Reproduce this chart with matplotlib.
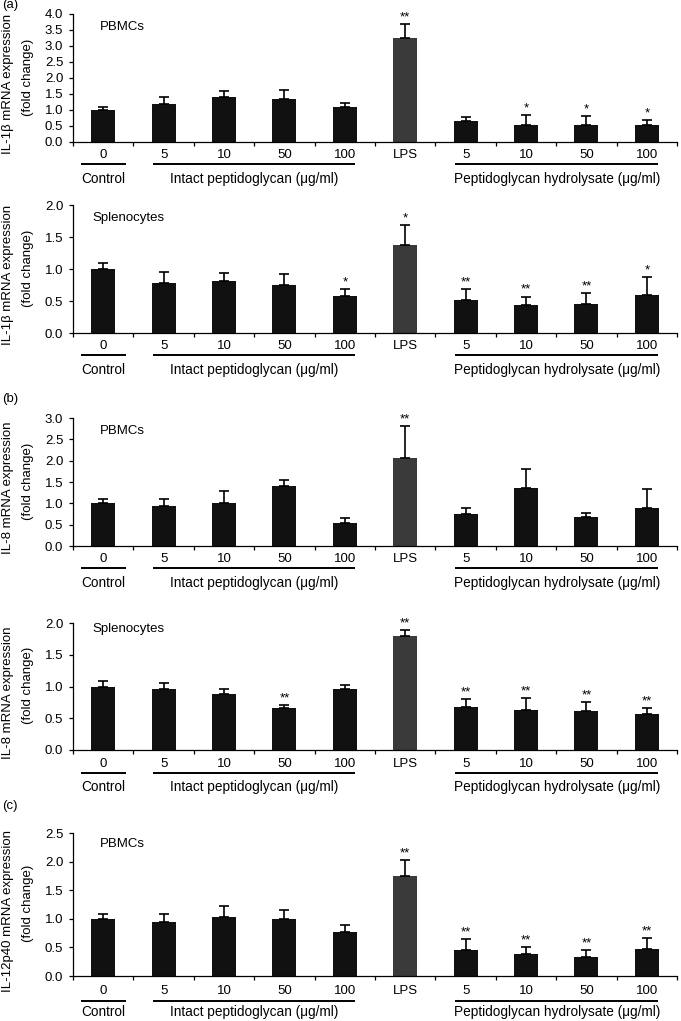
import matplotlib
matplotlib.use('Agg')
import matplotlib.pyplot as plt
import matplotlib.transforms as mtransforms
import numpy as np

plt.rcParams['font.family'] = ['Liberation Sans', 'DejaVu Sans']

categories = ['0', '5', '10', '50', '100', 'LPS', '5', '10', '50', '100']
group_names = ['Control', 'Intact peptidoglycan (\u03bcg/ml)', 'Peptidoglycan hydrolysate (\u03bcg/ml)']

# panel data
il1b_pbmc = [1.00, 1.18, 1.40, 1.34, 1.09, 3.26, 0.66, 0.54, 0.53, 0.53]
il1b_pbmc_err = [0.10, 0.23, 0.18, 0.28, 0.12, 0.42, 0.13, 0.31, 0.28, 0.15]
il1b_pbmc_sig = ['', '', '', '', '', '**', '', '*', '*', '*']

il1b_spl = [1.00, 0.78, 0.81, 0.75, 0.58, 1.37, 0.52, 0.44, 0.46, 0.60]
il1b_spl_err = [0.09, 0.18, 0.13, 0.17, 0.10, 0.32, 0.17, 0.13, 0.16, 0.28]
il1b_spl_sig = ['', '', '', '', '*', '*', '**', '**', '**', '*']

il8_pbmc = [1.00, 0.93, 1.01, 1.41, 0.53, 2.06, 0.75, 1.35, 0.67, 0.88]
il8_pbmc_err = [0.09, 0.18, 0.27, 0.14, 0.12, 0.75, 0.14, 0.46, 0.10, 0.46]
il8_pbmc_sig = ['', '', '', '', '', '**', '', '', '', '']

il8_spl = [1.00, 0.96, 0.88, 0.66, 0.96, 1.79, 0.68, 0.63, 0.61, 0.57]
il8_spl_err = [0.08, 0.10, 0.08, 0.05, 0.07, 0.10, 0.12, 0.19, 0.15, 0.09]
il8_spl_sig = ['', '', '', '**', '', '**', '**', '**', '**', '**']

il12_pbmc = [1.00, 0.94, 1.03, 1.00, 0.77, 1.74, 0.45, 0.38, 0.33, 0.48]
il12_pbmc_err = [0.08, 0.15, 0.20, 0.15, 0.13, 0.29, 0.20, 0.12, 0.12, 0.19]
il12_pbmc_sig = ['', '', '', '', '', '**', '**', '**', '**', '**']

panels = [
    dict(vals=il1b_pbmc, err=il1b_pbmc_err, sig=il1b_pbmc_sig, ymax=4.0, step=0.5,
         ylabel='IL-1\u03b2 mRNA expression', cell='PBMCs', cx=0.045, top=14, bottom=142, cy=0.90,
         tag='(a)', tagy=5, offs=(13, 22, 37)),
    dict(vals=il1b_spl, err=il1b_spl_err, sig=il1b_spl_sig, ymax=2.0, step=0.5,
         ylabel='IL-1\u03b2 mRNA expression', cell='Splenocytes', cx=0.032, top=205, bottom=333, cy=0.895,
         tag=None, offs=(13, 22, 37)),
    dict(vals=il8_pbmc, err=il8_pbmc_err, sig=il8_pbmc_sig, ymax=3.0, step=0.5,
         ylabel='IL-8 mRNA expression', cell='PBMCs', cx=0.045, top=418, bottom=546, cy=0.90,
         tag='(b)', tagy=399, offs=(13, 22, 37)),
    dict(vals=il8_spl, err=il8_spl_err, sig=il8_spl_sig, ymax=2.0, step=0.5,
         ylabel='IL-8 mRNA expression', cell='Splenocytes', cx=0.032, top=623, bottom=750, cy=0.95,
         tag=None, offs=(14, 23, 37)),
    dict(vals=il12_pbmc, err=il12_pbmc_err, sig=il12_pbmc_sig, ymax=2.5, step=0.5,
         ylabel='IL-12p40 mRNA expression', cell='PBMCs', cx=0.045, top=833, bottom=976, cy=0.925,
         tag='(c)', tagy=806, offs=(15, 25, 36)),
]

W, H = 681, 1021
fig = plt.figure(figsize=(W / 100, H / 100), dpi=100)
FS = 9.5
FSG = 9.8
x_left, x_right = 73, 677
bar_colors = ['#111111'] * 5 + ['#3a3a3a'] + ['#111111'] * 4

for p in panels:
    ax = fig.add_axes([x_left / W, 1 - p['bottom'] / H, (x_right - x_left) / W, (p['bottom'] - p['top']) / H])
    x = np.arange(len(categories))
    ax.bar(x, p['vals'], width=0.4, color=bar_colors, edgecolor='none', zorder=2)
    ax.errorbar(x, p['vals'], yerr=[np.zeros(len(x)), p['err']], fmt='none', ecolor='black',
                elinewidth=1.2, capsize=3.6, capthick=1.2, zorder=3)
    for xi, v, e, s in zip(x, p['vals'], p['err'], p['sig']):
        if s:
            ax.annotate(s, (xi, v + e), xytext=(0, 0.5), textcoords='offset points',
                        ha='center', va='bottom', fontsize=FS)
    ax.set_xlim(-0.5, 9.5)
    ax.set_ylim(0, p['ymax'])
    yt = np.arange(0, p['ymax'] + 1e-9, p['step'])
    ax.set_yticks(yt)
    ax.set_yticklabels(['%.1f' % t for t in yt], fontsize=FS)
    ax.set_xticks(np.arange(-0.5, 10, 1))
    ax.set_xticklabels([])
    ax.tick_params(axis='both', direction='out', length=3, width=0.9, pad=4)
    for side in ['top', 'right']:
        ax.spines[side].set_visible(False)
    for side in ['left', 'bottom']:
        ax.spines[side].set_linewidth(0.9)
    ax.text(p['cx'], p['cy'], p['cell'], transform=ax.transAxes, fontsize=FS, ha='left', va='center')

    def trans_down(px):
        return mtransforms.blended_transform_factory(ax.transData, ax.transAxes) + \
            mtransforms.ScaledTranslation(0, -px / 100, fig.dpi_scale_trans)

    d_lab, d_line, d_grp = p['offs']
    t_lab = trans_down(d_lab)
    for xi, c in zip(x, categories):
        ax.text(xi, 0, c, transform=t_lab, ha='center', va='center', fontsize=FS, clip_on=False)
    t_line = trans_down(d_line)
    for (a, b) in [(-0.37, 0.375), (0.82, 4.17), (5.82, 9.18)]:
        ax.plot([a, b], [0, 0], color='black', lw=1.4, transform=t_line, clip_on=False, solid_capstyle='butt')
    t_grp = trans_down(d_grp)
    for gx, g in zip([0, 2.5, 7.52], group_names):
        ax.text(gx, 0, g, transform=t_grp, ha='center', va='center', fontsize=FSG, clip_on=False)

    ymid = (p['top'] + p['bottom']) / 2
    fig.text(8 / W, 1 - (ymid + 6) / H, p['ylabel'], rotation=90, ha='center', va='center', fontsize=FS)
    fig.text(28 / W, 1 - (ymid - 1) / H, '(fold change)', rotation=90, ha='center', va='center', fontsize=FS)
    if p['tag']:
        fig.text(2 / W, 1 - p['tagy'] / H, p['tag'], ha='left', va='center', fontsize=FS)

fig.savefig('out.png', dpi=100)
